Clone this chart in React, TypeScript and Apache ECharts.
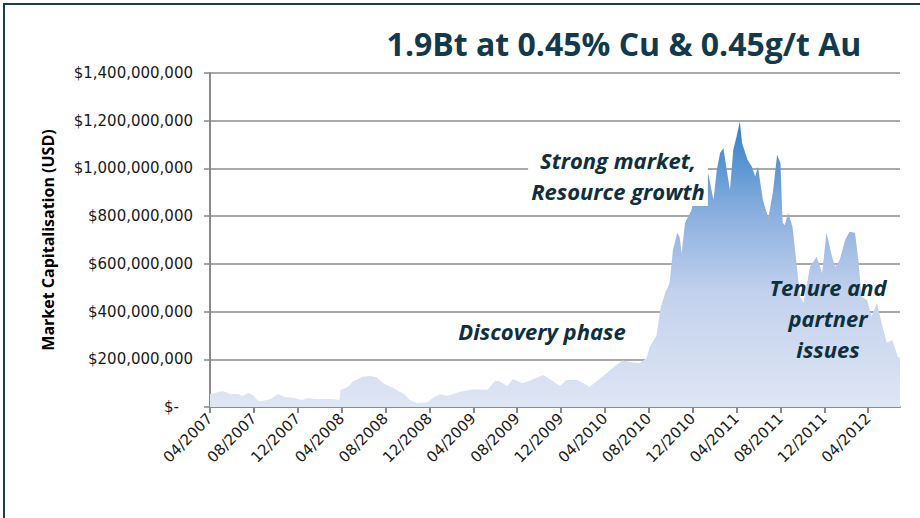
import React, { useEffect, useRef } from "react";
import * as echarts from "echarts";

const chartTitle = "1.9Bt at 0.45% Cu & 0.45g/t Au";
const yAxisTitle = "Market Capitalisation (USD)";
const startYear = 2007;
const startMonth = 4; // April 2007 = month 0
const labelMonths = [0, 4, 8, 12, 16, 20, 24, 28, 32, 36, 40, 44, 48, 52, 56, 60];

// months since 04/2007
const monthsSinceStart = [
  0, 0.5, 1.1, 1.5, 1.8, 2.6, 2.9, 3.5, 3.9, 4.4, 4.8, 5.5, 6.2, 6.8, 7.5, 8.4, 8.9, 9.6, 11.1, 11.8,
  11.9, 12.6, 13.0, 13.9, 14.6, 15.2, 15.8, 16.7, 17.3, 17.8, 18.2, 18.9, 19.8, 20.3, 21.0, 21.6, 22.8, 24.0, 25.3, 26.0,
  26.4, 27.1, 27.6, 28.5, 28.9, 30.4, 31.2, 31.9, 32.5, 33.5, 34.6, 35.6, 36.7, 37.6, 38.6, 39.2, 39.8, 40.1, 40.7, 41.1,
  41.5, 41.9, 42.2, 42.6, 42.8, 43.0, 43.3, 43.6, 43.9, 44.2, 44.5, 44.6, 44.8, 45.1, 45.4, 45.9, 46.2, 46.5, 46.8, 47.1,
  47.4, 47.7, 48.0, 48.3, 48.5, 49.0, 49.4, 49.7, 49.95, 50.4, 50.9, 51.3, 51.7, 52.0, 52.2, 52.4, 52.7, 53.1, 53.5, 53.8,
  54.1, 54.7, 55.3, 55.8, 56.2, 56.7, 57.0, 57.4, 57.9, 58.3, 58.8, 59.1, 59.4, 59.9, 60.3, 60.8, 61.3, 61.7, 62.2, 62.4,
  62.7, 62.9,
];

// market capitalisation, millions of USD
const marketCapMillions = [
  55, 60, 67, 62, 55, 55, 46, 59, 50, 25, 25, 34, 55, 42, 40, 29, 38, 34, 34, 29,
  71, 85, 106, 127, 130, 125, 100, 80, 64, 50, 29, 17, 20, 38, 55, 46, 64, 73, 72, 110,
  108, 87, 117, 100, 106, 134, 110, 88, 113, 113, 85, 121, 163, 195, 187, 184, 205, 253, 300, 420,
  478, 520, 658, 730, 714, 646, 772, 798, 826, 897, 966, 900, 1007, 952, 981, 868, 994, 1065, 1086, 994,
  910, 1078, 1133, 1196, 1107, 1036, 1007, 966, 1007, 868, 792, 897, 1057, 1022, 772, 763, 813, 756, 588, 462,
  436, 588, 630, 562, 730, 630, 588, 616, 700, 735, 730, 616, 462, 449, 379, 436, 337, 268, 281, 253,
  211, 205,
];

const annotations = [
  { text: "Strong market,\nResource growth", x: 618, y: 175, bg: true },
  { text: "Discovery phase", x: 542, y: 331, bg: false },
  { text: "Tenure and\npartner\nissues", x: 828, y: 318, bg: false },
];

const monthLabel = (v: number) => {
  const total = startMonth - 1 + Math.round(v);
  const y = startYear + Math.floor(total / 12);
  const mo = (total % 12) + 1;
  return (mo < 10 ? "0" : "") + mo + "/" + y;
};

const moneyLabel = (v: number) =>
  v === 0 ? "{z|$-}" : "$" + Math.round(v).toLocaleString("en-US");

export default function App() {
  const ref = useRef<HTMLDivElement>(null);
  useEffect(() => {
    if (!ref.current) return;
    const chart = echarts.init(ref.current, undefined, { renderer: "svg" });
    const textColor = "#1a1a1a";
    const axisGray = "#8a8a8a";
    const annColor = "#0e2f3e";
    chart.setOption({
      animation: false,
      backgroundColor: "#ffffff",
      grid: { left: 210, right: 20, top: 73, bottom: 111 },
      xAxis: {
        type: "value",
        min: 0,
        max: 62.9,
        interval: 4,
        axisLine: { show: true, lineStyle: { color: axisGray, width: 2 } },
        axisTick: { show: true, length: 6, customValues: labelMonths, lineStyle: { color: axisGray, width: 2 } },
        splitLine: { show: false },
        axisLabel: {
          customValues: labelMonths,
          formatter: monthLabel,
          rotate: 45,
          margin: 9,
          color: textColor,
          fontFamily: "DejaVu Sans",
          fontSize: 15,
        },
      },
      yAxis: {
        type: "value",
        min: 0,
        max: 1400000000,
        interval: 200000000,
        axisLine: { show: true, lineStyle: { color: axisGray, width: 2 } },
        axisTick: { show: true, length: 6, lineStyle: { color: axisGray, width: 1.5 } },
        splitLine: { show: true, lineStyle: { color: "#8c8c8c", width: 1.5 } },
        axisLabel: {
          formatter: moneyLabel,
          margin: 17,
          color: textColor,
          fontFamily: "DejaVu Sans",
          fontSize: 15,
          rich: { z: { padding: [0, 14, 0, 0], fontFamily: "DejaVu Sans", fontSize: 15, color: textColor } },
        },
        name: yAxisTitle,
        nameLocation: "middle",
        nameGap: 154,
        nameRotate: 90,
        nameTextStyle: { fontFamily: "Open Sans", fontWeight: "bold", fontSize: 16, color: "#000" },
      },
      series: [
        {
          type: "line",
          data: monthsSinceStart.map((m, i) => [m, marketCapMillions[i] * 1e6]),
          showSymbol: false,
          symbol: "none",
          lineStyle: { width: 0 },
          areaStyle: {
            opacity: 1,
            color: new echarts.graphic.LinearGradient(0, 0, 0, 1, [
              { offset: 0, color: "#2f7fc6" },
              { offset: 0.3, color: "#85acdd" },
              { offset: 0.6, color: "#c2d1ed" },
              { offset: 1, color: "#dfe6f4" },
            ]),
          },
          z: 3,
        },
      ],
      graphic: [
        {
          type: "rect",
          z: 200,
          shape: { x: 4, y: 4, width: 1200, height: 1200 },
          style: { fill: "none", stroke: "#1f3b4d", lineWidth: 2 },
        },
        {
          type: "text",
          z: 200,
          x: 624,
          y: 43,
          style: {
            text: chartTitle,
            align: "center",
            verticalAlign: "middle",
            font: "bold 32px 'Open Sans'",
            fill: "#123a4a",
          },
        },
        ...annotations.map((a) => ({
          type: "text",
          z: 150,
          x: a.x,
          y: a.y,
          style: {
            text: a.text,
            align: "center",
            verticalAlign: "middle",
            font: "italic bold 22px 'Open Sans'",
            lineHeight: 31,
            fill: annColor,
            backgroundColor: a.bg ? "#ffffff" : undefined,
            padding: a.bg ? [0, 3, 0, 3] : 0,
          },
        })),
      ],
    });
    return () => chart.dispose();
  }, []);
  return (
    <div
      ref={ref}
      style={{ position: "fixed", left: 0, top: 0, width: 920, height: 518 }}
    />
  );
}
